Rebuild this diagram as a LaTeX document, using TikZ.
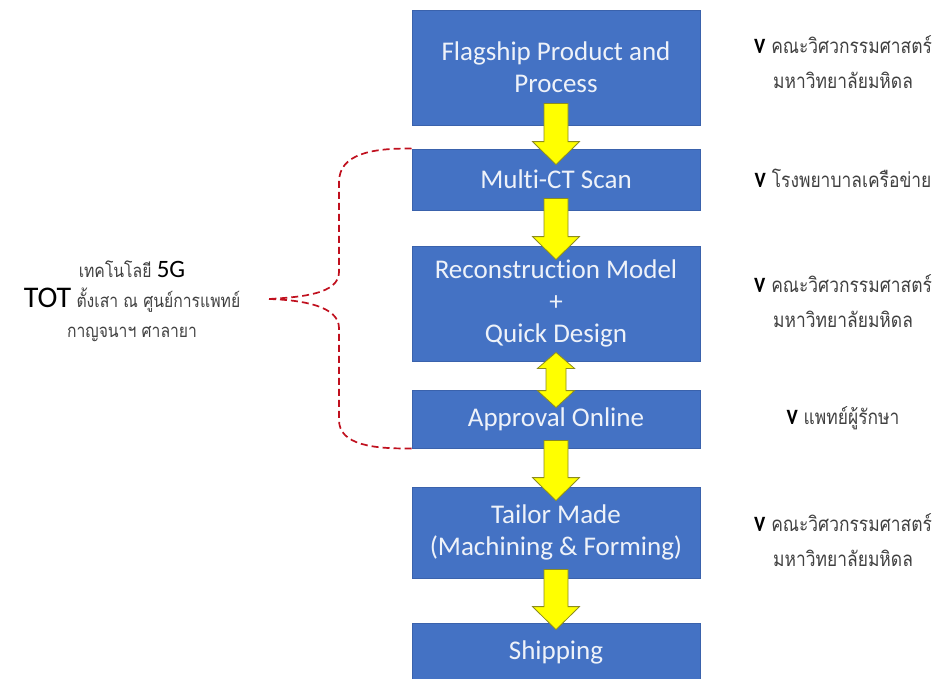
\documentclass[tikz,border=0pt]{standalone}
\usepackage{fontspec}
\setmainfont{Carlito}[Ligatures=NoCommon]
\newfontfamily\thai[Script=Thai,FakeStretch=0.85]{Loma}
\usetikzlibrary{calc}
\definecolor{boxblue}{HTML}{4472C4}
\definecolor{boxedge}{HTML}{3A62AC}
\definecolor{boxtext}{HTML}{EEF2F9}
\definecolor{arrfill}{HTML}{FFFF00}
\definecolor{arredge}{HTML}{8C8C1E}
\definecolor{bracered}{HTML}{C0101E}
\definecolor{thaigray}{HTML}{404040}
% block arrow pointing down, from #1 to tip #2
\newcommand{\downarr}[2]{%
  \path[yarr] let \p1=(#1), \p2=(#2) in
    (\x1-12pt,\y1) -- (\x1+12pt,\y1) -- (\x1+12pt,\y2+23pt) -- (\x1+23.5pt,\y2+23pt)
    -- (\x1,\y2) -- (\x1-23.5pt,\y2+23pt) -- (\x1-12pt,\y2+23pt) -- cycle;}
% block arrow with two heads, tips #1 (top) and #2 (bottom)
\newcommand{\duoarr}[2]{%
  \path[yarr] let \p1=(#1), \p2=(#2) in
    (\x1,\y1) -- (\x1+18.5pt,\y1-16pt) -- (\x1+10pt,\y1-16pt) -- (\x1+10pt,\y2+17pt)
    -- (\x1+18.5pt,\y2+17pt) -- (\x1,\y2) -- (\x1-18.5pt,\y2+17pt) -- (\x1-10pt,\y2+17pt)
    -- (\x1-10pt,\y1-16pt) -- (\x1-18.5pt,\y1-16pt) -- cycle;}
\newcommand{\chk}{{\fontsize{20}{20}\selectfont\bfseries\color{black}V}}
\begin{document}
\begin{tikzpicture}[x=1pt,y=-1pt,
  stepbox/.style={draw=boxedge,fill=boxblue,line width=0.8pt,
                  minimum width=288pt,inner sep=0pt,align=center,
                  text=boxtext,font=\fontsize{27}{32}\selectfont},
  side/.style={align=center,text=thaigray,font=\fontsize{20.5}{35}\selectfont\thai},
  yarr/.style={draw=arredge,fill=arrfill,line width=0.8pt,line join=miter},
  brace/.style={draw=bracered,line width=1.7pt,dash pattern=on 7pt off 4pt}]
\useasboundingbox (0,0) rectangle (934,678);
% process chain
\node[stepbox,minimum height=115pt] (fp) at (556,67.5)  {Flagship Product and\\Process};
\node[stepbox,minimum height=61pt]  (ct) at (556,179.5) {Multi-CT Scan};
\node[stepbox,minimum height=115pt] (rm) at (556,303.5) {Reconstruction Model\\+\\Quick Design};
\node[stepbox,minimum height=58pt]  (ap) at (556,419)   {Approval Online};
\node[stepbox,minimum height=91pt]  (tm) at (556,532.5) {Tailor Made\\(Machining \& Forming)};
\node[stepbox,minimum height=58pt]  (sh) at (556,652)   {Shipping};
\downarr{$(fp.south)+(0,-22)$}{$(ct.north)+(0,16)$}
\downarr{$(ct.south)+(0,-12)$}{$(rm.north)+(0,14)$}
\duoarr{$(rm.south)+(0,-9)$}{$(ap.north)+(0,18)$}
\downarr{$(ap.south)+(0,-8)$}{$(tm.north)+(0,14)$}
\downarr{$(tm.south)+(0,-9)$}{$(sh.north)+(0,7)$}
% who does each step
\node[side] (l1) at (843,62)  {\chk{} คณะวิศวกรรมศาสตร์\\มหาวิทยาลัยมหิดล};
\node[side] (l2) at (843,178) {\chk{} โรงพยาบาลเครือข่าย};
\node[side] (l3) at (843,301) {\chk{} คณะวิศวกรรมศาสตร์\\มหาวิทยาลัยมหิดล};
\node[side] (l4) at (843,418) {\chk{} แพทย์ผู้รักษา};
\node[side] (l5) at (843,540) {\chk{} คณะวิศวกรรมศาสตร์\\มหาวิทยาลัยมหิดล};
% 5G link
\node[side,font=\fontsize{18.5}{30}\selectfont\thai] (tech) at (132,301)
  {เทคโนโลยี {\rmfamily\fontsize{25}{25}\selectfont\color{black}5G}\\
   {\rmfamily\fontsize{30}{30}\selectfont\color{black}TOT} ตั้งเสา ณ ศูนย์การแพทย์\\
   กาญจนาฯ ศาลายา};
\coordinate (br) at (269,299);
\draw[brace] (ct.north west) .. controls (372,148) and (339,154) .. (339,182)
  -- (339,272) .. controls (339,294) and (302,297) .. (br);
\draw[brace] (br) .. controls (302,300) and (339,306) .. (339,328)
  -- (339,420) .. controls (339,445) and (374,449) .. (ap.south west);
\end{tikzpicture}
\end{document}
